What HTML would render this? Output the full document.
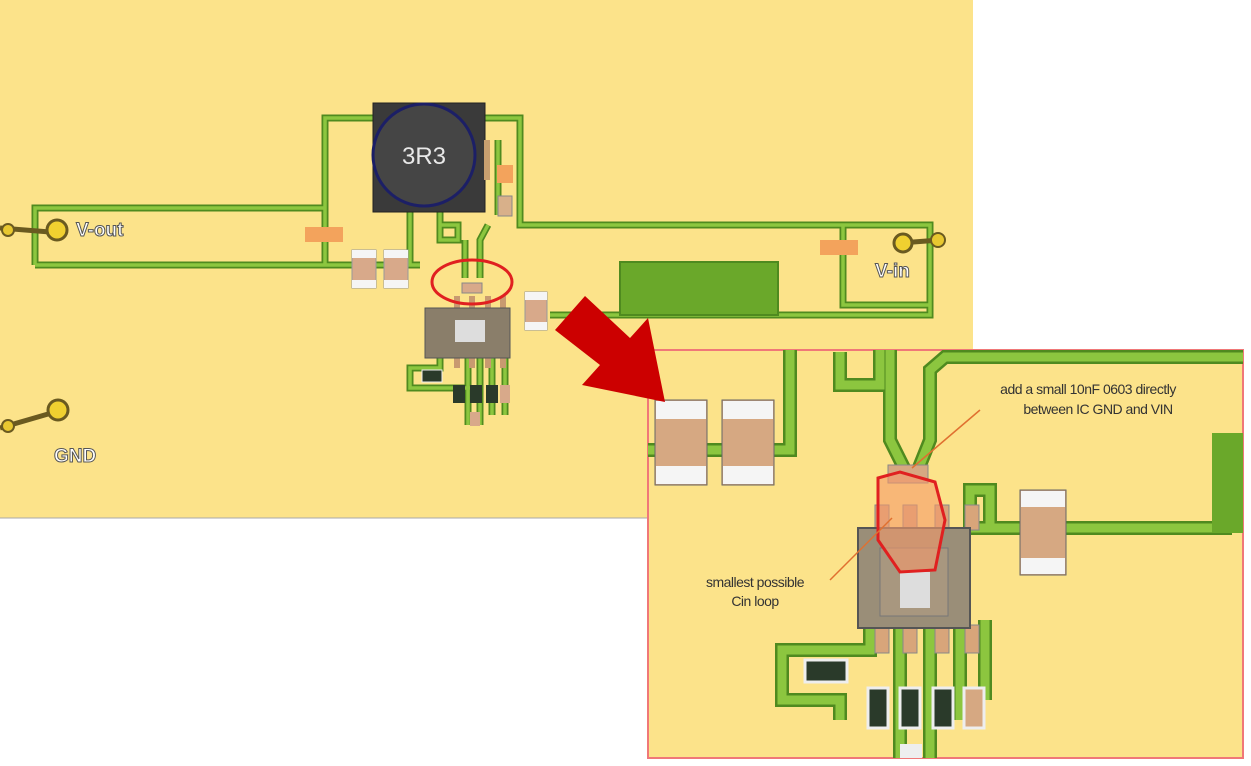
<!DOCTYPE html>
<html><head><meta charset="utf-8"><style>
html,body{margin:0;padding:0;background:#fff;}
svg{display:block;font-family:"Liberation Sans",sans-serif;}
</style></head><body>
<svg width="1251" height="766" viewBox="0 0 1251 766" xmlns="http://www.w3.org/2000/svg">
<rect x="0" y="0" width="1251" height="766" fill="#fff"/>
<rect x="0" y="0" width="973" height="518" fill="#fce38a"/>
<line x1="0" y1="518" x2="973" y2="518" stroke="#aaa" stroke-width="1"/>

<!-- main traces -->
<g fill="none" stroke="#4f8a1f" stroke-width="7" stroke-linejoin="miter">
<path d="M35,265 L35,208 L325,208 M35,265 L420,265 M325,265 L325,118 L375,118"/>
<path d="M485,118 L520,118 L520,225 L930,225 L930,315 L550,315 M843,225 L843,305 L930,305"/>
<path d="M498,140 L498,215"/>
<path d="M410,210 L410,265 M440,210 L440,240 L458,240 L458,225 L440,225 M465,240 L465,278 M488,225 L480,240 L480,278"/>
<path d="M468,355 L468,425 M480,355 L480,425 M492,355 L492,415 M505,355 L505,415 M440,355 L440,368 L410,368 L410,388 L470,388"/>
</g>
<g fill="none" stroke="#8cc63f" stroke-width="3.5">
<path d="M35,265 L35,208 L325,208 M35,265 L420,265 M325,265 L325,118 L375,118"/>
<path d="M485,118 L520,118 L520,225 L930,225 L930,315 L550,315 M843,225 L843,305 L930,305"/>
<path d="M498,140 L498,215"/>
<path d="M410,210 L410,265 M440,210 L440,240 L458,240 L458,225 L440,225 M465,240 L465,278 M488,225 L480,240 L480,278"/>
<path d="M468,355 L468,425 M480,355 L480,425 M492,355 L492,415 M505,355 L505,415 M440,355 L440,368 L410,368 L410,388 L470,388"/>
</g>
<rect x="620" y="262" width="158" height="53" fill="#6aa82a" stroke="#4f8a1f" stroke-width="2"/>

<!-- pads -->
<rect x="305" y="227" width="38" height="15" fill="#f3a35c"/>
<rect x="820" y="240" width="38" height="15" fill="#f3a35c"/>
<rect x="497" y="165" width="16" height="18" fill="#f3a35c"/>
<rect x="498" y="196" width="14" height="20" fill="#d8b08a" stroke="#888"/>

<!-- caps -->
<g stroke="#999" stroke-width="1">
<rect x="352" y="250" width="24" height="38" fill="#d8a98a"/>
<rect x="384" y="250" width="24" height="38" fill="#d8a98a"/>
<rect x="525" y="292" width="22" height="38" fill="#d8a98a"/>
</g>
<g fill="#f5f5f5">
<rect x="352" y="250" width="24" height="8"/><rect x="352" y="280" width="24" height="8"/>
<rect x="384" y="250" width="24" height="8"/><rect x="384" y="280" width="24" height="8"/>
<rect x="525" y="292" width="22" height="8"/><rect x="525" y="322" width="22" height="8"/>
</g>

<!-- inductor -->
<rect x="373" y="103" width="112" height="109" fill="#3a3a3a" stroke="#222"/>
<circle cx="424" cy="155" r="51" fill="#454545" stroke="#1c1f66" stroke-width="3"/>
<text x="424" y="164" font-size="24" fill="#e8e8e8" text-anchor="middle">3R3</text>
<rect x="484" y="140" width="6" height="40" fill="#c8a070"/>

<!-- IC small -->
<rect x="462" y="283" width="20" height="10" fill="#d8a98a" stroke="#888"/>
<g fill="#c89a70"><rect x="454" y="296" width="6" height="12"/><rect x="469" y="296" width="6" height="12"/><rect x="485" y="296" width="6" height="12"/><rect x="500" y="296" width="6" height="12"/>
<rect x="454" y="356" width="6" height="12"/><rect x="469" y="356" width="6" height="12"/><rect x="485" y="356" width="6" height="12"/><rect x="500" y="356" width="6" height="12"/></g>
<rect x="425" y="308" width="85" height="50" fill="#8a7e6a" stroke="#555"/>
<rect x="455" y="320" width="30" height="22" fill="#ddd"/>
<rect x="422" y="370" width="20" height="12" fill="#2a3a2a" stroke="#eee"/>
<rect x="453" y="385" width="12" height="18" fill="#2a3a2a"/><rect x="470" y="385" width="12" height="18" fill="#2a3a2a"/><rect x="486" y="385" width="12" height="18" fill="#2a3a2a"/><rect x="500" y="385" width="10" height="18" fill="#d8a98a"/>
<rect x="470" y="412" width="10" height="14" fill="#d8a98a"/>
<ellipse cx="472" cy="282" rx="40" ry="22" fill="none" stroke="#e02020" stroke-width="3"/>

<!-- connectors -->
<g>
<line x1="0" y1="228" x2="50" y2="232" stroke="#6a5a20" stroke-width="5"/>
<circle cx="8" cy="230" r="6" fill="#e8c830" stroke="#6a5a20" stroke-width="2"/>
<circle cx="57" cy="230" r="10" fill="#f0d030" stroke="#6a5a20" stroke-width="3"/>
<text x="76" y="236" font-size="19" font-weight="bold" fill="#fff" stroke="#555" stroke-width="1">V-out</text>
<line x1="0" y1="428" x2="55" y2="412" stroke="#6a5a20" stroke-width="5"/>
<circle cx="8" cy="426" r="6" fill="#e8c830" stroke="#6a5a20" stroke-width="2"/>
<circle cx="58" cy="410" r="10" fill="#f0d030" stroke="#6a5a20" stroke-width="3"/>
<text x="54" y="462" font-size="19" font-weight="bold" fill="#fff" stroke="#555" stroke-width="1">GND</text>
<line x1="900" y1="243" x2="940" y2="240" stroke="#6a5a20" stroke-width="5"/>
<circle cx="903" cy="243" r="9" fill="#f0d030" stroke="#6a5a20" stroke-width="3"/>
<circle cx="938" cy="240" r="7" fill="#e8c830" stroke="#6a5a20" stroke-width="2"/>
<text x="875" y="277" font-size="19" font-weight="bold" fill="#fff" stroke="#555" stroke-width="1">V-in</text>
</g>

<!-- inset -->
<rect x="648" y="350" width="595" height="408" fill="#fce38a" stroke="#f07878" stroke-width="2"/>
<g fill="none" stroke="#4f8a1f" stroke-width="14">
<path d="M648,450 L790,450 L790,350"/>
<path d="M840,352 L840,385 L880,385 L880,350"/>
<path d="M890,350 L890,440 L905,470 L905,478 M930,385 L930,440 L918,470 L918,478"/>
<path d="M930,390 L930,370 L945,357 L1243,357"/>
<path d="M1243,440 L1225,440 L1225,528 L970,528 L970,490 L990,490 L990,528"/>
<path d="M870,625 L870,650 L782,650 L782,700 L840,700 L840,720 M900,625 L900,758 M930,625 L930,758 M960,625 L960,720 M985,620 L985,700"/>
</g>
<g fill="none" stroke="#8cc63f" stroke-width="9">
<path d="M648,450 L790,450 L790,350"/>
<path d="M840,352 L840,385 L880,385 L880,350"/>
<path d="M890,350 L890,440 L905,470 L905,478 M930,385 L930,440 L918,470 L918,478"/>
<path d="M930,390 L930,370 L945,357 L1243,357"/>
<path d="M1243,440 L1225,440 L1225,528 L970,528 L970,490 L990,490 L990,528"/>
<path d="M870,625 L870,650 L782,650 L782,700 L840,700 L840,720 M900,625 L900,758 M930,625 L930,758 M960,625 L960,720 M985,620 L985,700"/>
</g>
<rect x="1212" y="433" width="31" height="100" fill="#6aa82a"/>
<!-- big caps -->
<g stroke="#666">
<rect x="655" y="400" width="52" height="85" fill="#d6a882"/>
<rect x="722" y="400" width="52" height="85" fill="#d6a882"/>
<rect x="1020" y="490" width="46" height="85" fill="#d6a882"/>
</g>
<g fill="#f5f5f5"><rect x="656" y="401" width="50" height="18"/><rect x="656" y="466" width="50" height="18"/>
<rect x="723" y="401" width="50" height="18"/><rect x="723" y="466" width="50" height="18"/>
<rect x="1021" y="491" width="44" height="16"/><rect x="1021" y="558" width="44" height="16"/></g>
<!-- IC large -->
<rect x="888" y="465" width="40" height="18" fill="#d6a882" stroke="#888"/>
<g fill="#d8a57a" stroke="#888"><rect x="875" y="505" width="14" height="25"/><rect x="903" y="505" width="14" height="25"/><rect x="935" y="505" width="14" height="25"/><rect x="965" y="505" width="14" height="25"/>
<rect x="875" y="625" width="14" height="28"/><rect x="903" y="625" width="14" height="28"/><rect x="935" y="625" width="14" height="28"/><rect x="965" y="625" width="14" height="28"/></g>
<rect x="858" y="528" width="112" height="100" fill="#9a8e78" stroke="#555" stroke-width="2"/>
<rect x="880" y="548" width="68" height="68" fill="#a8977f" stroke="#777"/>
<rect x="900" y="572" width="30" height="36" fill="#ddd"/>
<path d="M878,478 L900,472 L935,482 L945,520 L935,570 L900,572 L878,540 Z" fill="#f59a6a" fill-opacity="0.6" stroke="#e02020" stroke-width="3"/>
<!-- small parts -->
<rect x="805" y="660" width="42" height="22" fill="#2a3a2a" stroke="#eee" stroke-width="3"/>
<rect x="868" y="688" width="20" height="40" fill="#2a3a2a" stroke="#eee" stroke-width="3"/>
<rect x="900" y="688" width="20" height="40" fill="#2a3a2a" stroke="#eee" stroke-width="3"/>
<rect x="933" y="688" width="20" height="40" fill="#2a3a2a" stroke="#eee" stroke-width="3"/>
<rect x="964" y="688" width="20" height="40" fill="#d6a882" stroke="#eee" stroke-width="3"/>
<rect x="900" y="744" width="22" height="14" fill="#eee"/>
<!-- annotations -->
<line x1="980" y1="410" x2="912" y2="468" stroke="#e07030" stroke-width="1.5"/>
<line x1="830" y1="580" x2="892" y2="518" stroke="#e07030" stroke-width="1.5"/>
<text x="1088" y="394" font-size="14" fill="#333" text-anchor="middle" letter-spacing="-0.5">add a small 10nF 0603 directly</text>
<text x="1098" y="414" font-size="14" fill="#333" text-anchor="middle" letter-spacing="-0.5">between IC GND and VIN</text>
<text x="755" y="587" font-size="14" fill="#333" text-anchor="middle" letter-spacing="-0.5">smallest possible</text>
<text x="755" y="606" font-size="14" fill="#333" text-anchor="middle" letter-spacing="-0.5">Cin loop</text>

<!-- red arrow -->
<polygon points="555,330 585,296 630,338 648,318 665,402 582,385 600,365" fill="#cc0000"/>
</svg>
</body></html>
